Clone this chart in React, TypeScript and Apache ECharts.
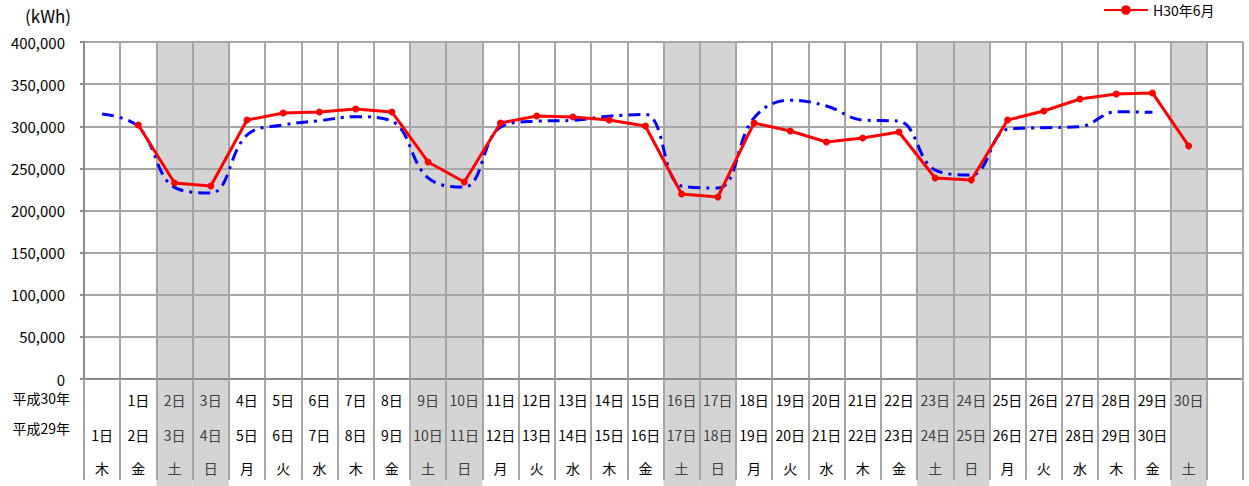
import React, { useEffect, useRef } from 'react';
import * as echarts from 'echarts';

const h30Labels = ['', '1日', '2日', '3日', '4日', '5日', '6日', '7日', '8日', '9日', '10日', '11日', '12日', '13日', '14日', '15日', '16日', '17日', '18日', '19日', '20日', '21日', '22日', '23日', '24日', '25日', '26日', '27日', '28日', '29日', '30日', ''];
const h29Labels = ['1日', '2日', '3日', '4日', '5日', '6日', '7日', '8日', '9日', '10日', '11日', '12日', '13日', '14日', '15日', '16日', '17日', '18日', '19日', '20日', '21日', '22日', '23日', '24日', '25日', '26日', '27日', '28日', '29日', '30日', '', ''];
const weekdays = ['木', '金', '土', '日', '月', '火', '水', '木', '金', '土', '日', '月', '火', '水', '木', '金', '土', '日', '月', '火', '水', '木', '金', '土', '日', '月', '火', '水', '木', '金', '土', ''];

const h30Values = [null, 301500, 232600, 229100, 307400, 315700, 316900, 320500, 317000, 257600, 233800, 303900, 312200, 311000, 307400, 300300, 219600, 216000, 303900, 294400, 281300, 286100, 293200, 238600, 236200, 307400, 318100, 332300, 338300, 339500, 276600, null];
const h29Values = [314500, 299500, 227500, 220800, 289600, 301500, 306600, 311300, 306000, 238600, 227900, 299000, 306000, 307000, 312000, 314000, 229000, 226700, 309800, 331000, 324000, 307400, 306000, 248000, 242000, 296400, 298300, 299500, 317200, 316500, null, null];

const yTicks = { min: 0, max: 400000, interval: 50000 };
const rowHeaders = ['平成30年', '平成29年'];

const FONT = "'Noto Sans CJK JP', 'Noto Sans', sans-serif";

export default function App() {
  const ref = useRef<HTMLDivElement>(null);
  useEffect(() => {
    if (!ref.current) return;
    const chart = echarts.init(ref.current, null, { renderer: 'svg' });
    const isWeekend = (i: number) => weekdays[i] === '土' || weekdays[i] === '日';
    const labelColor = (_v: any, i: number) => (isWeekend(i) ? '#404040' : '#000000');
    const shadeTop = weekdays.map((_, i) => (isWeekend(i) ? yTicks.max : null));
    const shadeBottom = weekdays.map((_, i) => (isWeekend(i) ? 1 : null));
    const gridLine = { color: '#a6a6a6', width: 2 };
    const axisColor = { color: '#8c8c8c', width: 2 };
    const subLabel = (margin: number) => ({
      interval: 0,
      margin,
      fontSize: 14,
      fontFamily: FONT,
      color: labelColor,
    });

    chart.setOption({
      animation: false,
      textStyle: { fontFamily: FONT },
      legend: {
        data: ['H30年6月'],
        left: 1103,
        top: 3,
        padding: 0,
        itemWidth: 44,
        itemHeight: 12,
        itemGap: 5,
        textStyle: { fontSize: 14, lineHeight: 14, color: '#000', fontFamily: FONT },
      },
      graphic: [
        { type: 'text', left: 25, top: 7, style: { text: '(kWh)', fontSize: 17, fill: '#000', fontFamily: FONT } },
        { type: 'text', right: 1249 - 70, top: 391, style: { text: rowHeaders[0], fontSize: 14, fill: '#000', fontFamily: FONT } },
        { type: 'text', right: 1249 - 70, top: 421, style: { text: rowHeaders[1], fontSize: 14, fill: '#000', fontFamily: FONT } },
      ],
      grid: [
        { left: 84, right: 6, top: 42, height: 337, containLabel: false, outerBoundsMode: 'none' },
        { left: 84, right: 6, top: 379, height: 107, containLabel: false, outerBoundsMode: 'none' },
      ],
      xAxis: [
        {
          type: 'category',
          gridIndex: 0,
          position: 'bottom',
          data: h30Labels,
          boundaryGap: true,
          z: 3,
          axisLine: { show: true, lineStyle: axisColor },
          axisTick: { show: true, interval: 0, length: 101, lineStyle: gridLine },
          splitLine: { show: true, interval: 0, lineStyle: gridLine },
          axisLabel: subLabel(14),
        },
        {
          type: 'category',
          gridIndex: 0,
          position: 'bottom',
          offset: 35,
          data: h29Labels,
          z: 3,
          axisLine: { show: false },
          axisTick: { show: false },
          splitLine: { show: false },
          axisLabel: subLabel(14),
        },
        {
          type: 'category',
          gridIndex: 0,
          position: 'bottom',
          offset: 68,
          data: weekdays,
          z: 3,
          axisLine: { show: false },
          axisTick: { show: false },
          splitLine: { show: false },
          axisLabel: subLabel(14),
        },
        {
          type: 'category',
          gridIndex: 1,
          data: weekdays,
          show: false,
        },
      ],
      yAxis: [
        {
          type: 'value',
          gridIndex: 0,
          min: yTicks.min,
          max: yTicks.max,
          interval: yTicks.interval,
          z: 3,
          axisLine: { show: true, lineStyle: axisColor },
          axisTick: { show: true, length: 4, lineStyle: axisColor },
          splitLine: { show: true, lineStyle: gridLine },
          axisLabel: {
            margin: 19,
            fontSize: 15,
            color: '#000',
            fontFamily: FONT,
            formatter: (v: number) => v.toLocaleString('en-US'),
          },
        },
        { type: 'value', gridIndex: 1, min: 0, max: 1, show: false },
      ],
      series: [
        {
          name: 'shade',
          type: 'bar',
          xAxisIndex: 0,
          yAxisIndex: 0,
          data: shadeTop,
          barWidth: '100%',
          barGap: '0%',
          silent: true,
          z: 1,
          itemStyle: { color: '#d4d4d4' },
        },
        {
          name: 'shade2',
          type: 'bar',
          xAxisIndex: 3,
          yAxisIndex: 1,
          data: shadeBottom,
          barWidth: '100%',
          silent: true,
          z: 1,
          itemStyle: { color: '#d4d4d4' },
        },
        {
          name: 'H29年6月',
          type: 'line',
          xAxisIndex: 0,
          yAxisIndex: 0,
          data: h29Values,
          smooth: 0.4,
          showSymbol: false,
          symbol: 'none',
          z: 5,
          lineStyle: { color: '#0000ff', width: 3, type: [12, 6, 3, 6] },
          itemStyle: { color: '#0000ff' },
        },
        {
          name: 'H30年6月',
          type: 'line',
          xAxisIndex: 0,
          yAxisIndex: 0,
          data: h30Values,
          symbol: 'circle',
          symbolSize: 7,
          z: 6,
          lineStyle: { color: '#ff0000', width: 3 },
          itemStyle: { color: '#ff0000' },
        },
      ],
    });
    return () => chart.dispose();
  }, []);
  return <div ref={ref} style={{ position: 'absolute', left: 0, top: 0, width: 1249, height: 486 }} />;
}
